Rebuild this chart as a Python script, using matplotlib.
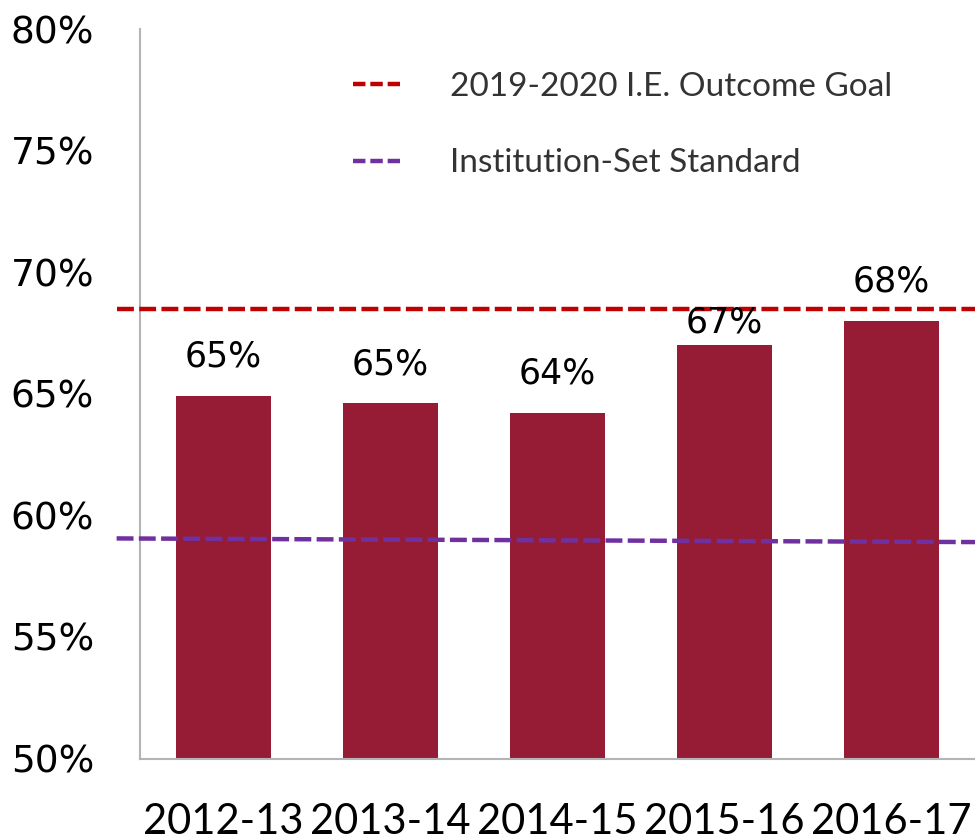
import matplotlib
matplotlib.use("Agg")
import matplotlib.pyplot as plt
from matplotlib.lines import Line2D
from matplotlib.ticker import FuncFormatter

# data
years = ["2012-13", "2013-14", "2014-15", "2015-16", "2016-17"]
rates = [64.9, 64.6, 64.2, 67.0, 68.0]
rate_labels = ["65%", "65%", "64%", "67%", "68%"]
goal_line = [68.5, 68.5]
standard_line = [59.05, 58.9]
line_span = [-0.64, 4.5]
y_ticks = [50, 55, 60, 65, 70, 75, 80]

BAR_COLOR = "#961C35"
GOAL_COLOR = "#C00000"
STANDARD_COLOR = "#7030A0"
SPINE_COLOR = "#B4B4B4"
label_offsets = [16, 16, 16, 4, 16]  # points above bar top

fig = plt.figure(figsize=(9.75, 8.39), dpi=100)
ax = fig.add_axes([140 / 975, 1 - 758.5 / 839, 1 - 140 / 975, (758.5 - 29) / 839])

x = range(len(years))
ax.bar(x, rates, width=0.57, color=BAR_COLOR, zorder=2)

ax.plot(line_span, goal_line, color=GOAL_COLOR, lw=3.2, dashes=(3.8, 1.2),
        clip_on=False, zorder=3)
ax.plot(line_span, standard_line, color=STANDARD_COLOR, lw=3.2, dashes=(3.8, 1.2),
        clip_on=False, zorder=3)

for i, (v, txt) in enumerate(zip(rates, rate_labels)):
    ax.annotate(txt, (i, v), xytext=(0, label_offsets[i]), textcoords="offset points",
                ha="center", va="bottom", fontsize=25, color="black")

ax.set_xlim(-0.5, 4.5)
ax.set_ylim(50, 80)
ax.set_yticks(y_ticks)
ax.yaxis.set_major_formatter(FuncFormatter(lambda v, _: f"{v:.0f}%"))
ax.set_xticks(list(x))
ax.set_xticklabels(years, fontfamily="Lato", fontsize=30)
ax.tick_params(axis="y", length=0, pad=33, labelsize=27)
ax.tick_params(axis="x", length=0, pad=32)

for side in ("top", "right"):
    ax.spines[side].set_visible(False)
for side in ("left", "bottom"):
    ax.spines[side].set_color(SPINE_COLOR)
    ax.spines[side].set_linewidth(1.5)

handles = [
    Line2D([], [], color=GOAL_COLOR, lw=3.2, dashes=(2.8, 1.1)),
    Line2D([], [], color=STANDARD_COLOR, lw=3.2, dashes=(2.8, 1.1)),
]
leg = ax.legend(handles, ["2019-2020 I.E. Outcome Goal", "Institution-Set Standard"],
                loc="upper left", bbox_to_anchor=(353 / 975, 1 - 72 / 839),
                bbox_transform=fig.transFigure, frameon=False,
                prop={"family": "Lato", "size": 24}, handlelength=1.41,
                handletextpad=1.5, labelspacing=1.39, borderpad=0, borderaxespad=0)
for t in leg.get_texts():
    t.set_color("#333333")

fig.savefig("out.png", dpi=100)
